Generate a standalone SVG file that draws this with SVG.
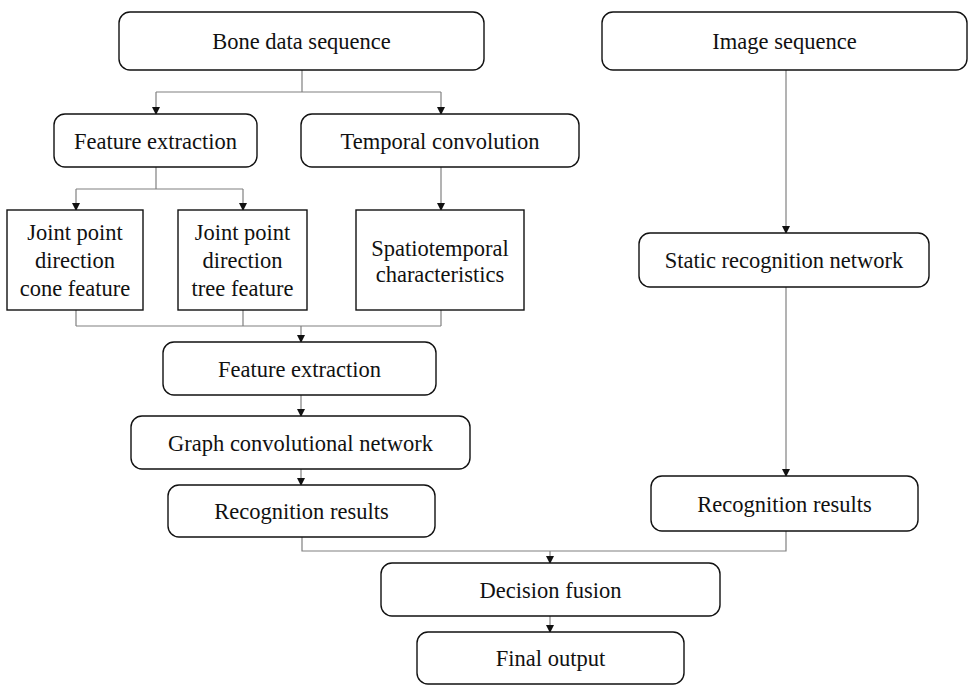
<svg xmlns="http://www.w3.org/2000/svg" width="968" height="685" viewBox="0 0 968 685">
<style>
.r{fill:#fff;stroke:#111;stroke-width:1.4}
.t{font-family:"Liberation Serif","Times New Roman",serif;font-size:22.5px;fill:#111;text-anchor:middle}
.c{fill:none;stroke:#808080;stroke-width:1.2}
</style>
<defs>
<marker id="a" markerWidth="8" markerHeight="8" refX="7" refY="4" orient="auto" markerUnits="userSpaceOnUse">
<path d="M0,0 L8,4 L0,8 Z" fill="#111"/>
</marker>
</defs>
<rect width="968" height="685" fill="#fff"/>
<g id="connectors">
<path class="c" d="M302,70 V92 M156,92 H441"/>
<path class="c" d="M156,92 V114" marker-end="url(#a)"/>
<path class="c" d="M441,92 V114" marker-end="url(#a)"/>
<path class="c" d="M156,167 V189 M76,189 H243"/>
<path class="c" d="M76,189 V210" marker-end="url(#a)"/>
<path class="c" d="M243,189 V210" marker-end="url(#a)"/>
<path class="c" d="M441,167 V210" marker-end="url(#a)"/>
<path class="c" d="M76,310 V326 M243,310 V326 M441,310 V326 M76,326 H441"/>
<path class="c" d="M301,326 V342" marker-end="url(#a)"/>
<path class="c" d="M301,395 V416" marker-end="url(#a)"/>
<path class="c" d="M301,469 V485" marker-end="url(#a)"/>
<path class="c" d="M786,70 V233" marker-end="url(#a)"/>
<path class="c" d="M786,287 V476" marker-end="url(#a)"/>
<path class="c" d="M302,537 V551 H786 V531"/>
<path class="c" d="M550,551 V563" marker-end="url(#a)"/>
<path class="c" d="M550,616 V632" marker-end="url(#a)"/>
</g>
<g id="bone">
<rect class="r" x="119" y="12" width="365" height="58" rx="11"/>
<text class="t" x="301.5" y="49">Bone data sequence</text>
</g>
<g id="image">
<rect class="r" x="602" y="12" width="365" height="58" rx="11"/>
<text class="t" x="784.5" y="49">Image sequence</text>
</g>
<g id="fe1">
<rect class="r" x="54" y="114" width="203" height="53" rx="11"/>
<text class="t" x="155.5" y="149">Feature extraction</text>
</g>
<g id="temporal">
<rect class="r" x="301" y="114" width="278" height="53" rx="11"/>
<text class="t" x="440" y="149">Temporal convolution</text>
</g>
<g id="cone">
<rect class="r" x="7" y="210" width="136" height="100"/>
<text class="t" x="75" y="240">Joint point</text>
<text class="t" x="75" y="268">direction</text>
<text class="t" x="75" y="296">cone feature</text>
</g>
<g id="tree">
<rect class="r" x="178" y="210" width="129" height="100"/>
<text class="t" x="242.5" y="240">Joint point</text>
<text class="t" x="242.5" y="268">direction</text>
<text class="t" x="242.5" y="296">tree feature</text>
</g>
<g id="spatio">
<rect class="r" x="356" y="210" width="168" height="100"/>
<text class="t" x="440" y="256">Spatiotemporal</text>
<text class="t" x="440" y="282">characteristics</text>
</g>
<g id="static">
<rect class="r" x="639" y="233" width="290" height="54" rx="11"/>
<text class="t" x="784" y="268">Static recognition network</text>
</g>
<g id="fe2">
<rect class="r" x="163" y="342" width="273" height="53" rx="11"/>
<text class="t" x="299.5" y="377">Feature extraction</text>
</g>
<g id="gcn">
<rect class="r" x="131" y="416" width="339" height="53" rx="11"/>
<text class="t" x="300.5" y="451">Graph convolutional network</text>
</g>
<g id="rec1">
<rect class="r" x="168" y="485" width="267" height="52" rx="11"/>
<text class="t" x="301.5" y="519">Recognition results</text>
</g>
<g id="rec2">
<rect class="r" x="651" y="476" width="267" height="55" rx="11"/>
<text class="t" x="784.5" y="512">Recognition results</text>
</g>
<g id="fusion">
<rect class="r" x="381" y="563" width="339" height="53" rx="11"/>
<text class="t" x="550.5" y="598">Decision fusion</text>
</g>
<g id="final">
<rect class="r" x="417" y="632" width="267" height="52" rx="11"/>
<text class="t" x="550.5" y="666">Final output</text>
</g>
</svg>
